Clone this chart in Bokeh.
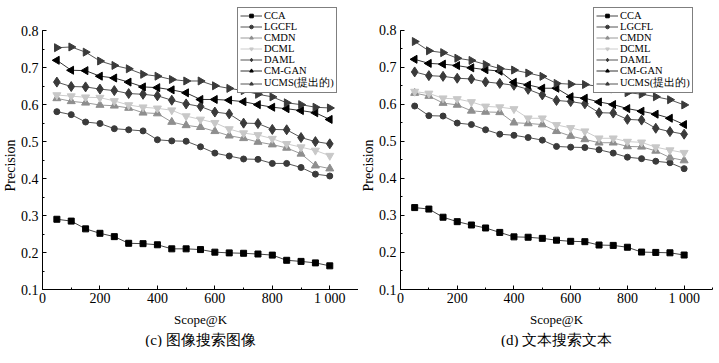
import math
from bokeh.plotting import figure
from bokeh.layouts import row
from bokeh.models import Range1d, Legend, LegendItem, Title, FixedTicker
from bokeh.embed import file_html
from bokeh.resources import INLINE

scope_k = [50, 100, 150, 200, 250, 300, 350, 400, 450, 500,
           550, 600, 650, 700, 750, 800, 850, 900, 950, 1000]

series_names = ["CCA", "LGCFL", "CMDN", "DCML", "DAML", "CM-GAN", "UCMS(提出的)"]

# (c) image -> image
img_cca = [0.290, 0.285, 0.264, 0.252, 0.243, 0.225, 0.224, 0.221, 0.210, 0.210,
           0.208, 0.201, 0.199, 0.198, 0.196, 0.193, 0.179, 0.176, 0.172, 0.164]
img_lgcfl = [0.581, 0.573, 0.553, 0.549, 0.535, 0.532, 0.529, 0.505, 0.502, 0.501,
             0.486, 0.469, 0.461, 0.453, 0.452, 0.441, 0.441, 0.430, 0.412, 0.407]
img_cmdn = [0.617, 0.609, 0.605, 0.599, 0.597, 0.591, 0.578, 0.576, 0.553, 0.544,
            0.539, 0.528, 0.516, 0.509, 0.499, 0.492, 0.483, 0.467, 0.435, 0.427]
img_dcml = [0.626, 0.623, 0.620, 0.619, 0.610, 0.599, 0.593, 0.590, 0.585, 0.569,
            0.560, 0.551, 0.534, 0.523, 0.518, 0.508, 0.494, 0.485, 0.476, 0.462]
img_daml = [0.661, 0.649, 0.648, 0.642, 0.638, 0.630, 0.628, 0.624, 0.612, 0.602,
            0.595, 0.580, 0.575, 0.550, 0.549, 0.533, 0.532, 0.511, 0.500, 0.494]
img_cmgan = [0.720, 0.693, 0.692, 0.677, 0.672, 0.661, 0.648, 0.646, 0.640, 0.632,
             0.614, 0.614, 0.612, 0.608, 0.600, 0.593, 0.589, 0.584, 0.578, 0.560]
img_ucms = [0.754, 0.756, 0.742, 0.718, 0.706, 0.697, 0.682, 0.677, 0.668, 0.664,
            0.664, 0.651, 0.644, 0.638, 0.628, 0.621, 0.605, 0.600, 0.593, 0.591]

# (d) text -> text
txt_cca = [0.321, 0.317, 0.295, 0.283, 0.274, 0.266, 0.254, 0.242, 0.241, 0.238,
           0.233, 0.230, 0.229, 0.220, 0.219, 0.214, 0.201, 0.200, 0.199, 0.193]
txt_lgcfl = [0.595, 0.569, 0.568, 0.549, 0.545, 0.531, 0.519, 0.516, 0.510, 0.503,
             0.486, 0.484, 0.483, 0.477, 0.468, 0.457, 0.453, 0.446, 0.442, 0.426]
txt_cmdn = [0.630, 0.622, 0.603, 0.598, 0.582, 0.579, 0.578, 0.550, 0.548, 0.545,
            0.527, 0.514, 0.505, 0.496, 0.496, 0.486, 0.485, 0.474, 0.456, 0.448]
txt_dcml = [0.634, 0.629, 0.616, 0.614, 0.606, 0.594, 0.592, 0.587, 0.562, 0.562,
            0.544, 0.536, 0.527, 0.508, 0.508, 0.499, 0.497, 0.484, 0.476, 0.469]
txt_daml = [0.687, 0.677, 0.675, 0.670, 0.668, 0.660, 0.656, 0.651, 0.640, 0.625,
            0.610, 0.607, 0.601, 0.577, 0.576, 0.559, 0.557, 0.535, 0.526, 0.519]
txt_cmgan = [0.721, 0.710, 0.708, 0.704, 0.698, 0.693, 0.689, 0.659, 0.652, 0.643,
             0.643, 0.620, 0.616, 0.606, 0.599, 0.588, 0.581, 0.573, 0.562, 0.545]
txt_ucms = [0.769, 0.744, 0.739, 0.724, 0.718, 0.707, 0.696, 0.692, 0.684, 0.675,
            0.656, 0.654, 0.653, 0.648, 0.641, 0.631, 0.627, 0.620, 0.612, 0.598]

x_ticks = [0, 200, 400, 600, 800, 1000]
x_minor = [0, 100, 200, 300, 400, 500, 600, 700, 800, 900, 1000, 1100]
y_ticks = [0.1, 0.2, 0.3, 0.4, 0.5, 0.6, 0.7, 0.8]
y_minor = [0.1, 0.15, 0.2, 0.25, 0.3, 0.35, 0.4, 0.45, 0.5, 0.55, 0.6, 0.65, 0.7, 0.75, 0.8]

styles = [
    dict(marker="square", color="#000000", line="#444444", size=6, angle=0.0),
    dict(marker="circle", color="#3a3a3a", line="#555555", size=6, angle=0.0),
    dict(marker="triangle", color="#8e8e8e", line="#9a9a9a", size=8, angle=0.0),
    dict(marker="inverted_triangle", color="#c8c8c8", line="#cccccc", size=8, angle=0.0),
    dict(marker="diamond", color="#3a3a3a", line="#555555", size=10, angle=0.0),
    dict(marker="triangle", color="#000000", line="#333333", size=8, angle=math.pi / 2),
    dict(marker="triangle", color="#3a3a3a", line="#555555", size=8, angle=-math.pi / 2),
]

SERIF = "Liberation Serif"


def make_plot(series, caption, frame_w, y_top, border_left, border_right,
              legend_x, legend_y, ylabel_offset):
    p = figure(frame_width=frame_w, height=347, output_backend="svg", toolbar_location=None,
               x_range=Range1d(0, 1100), y_range=Range1d(0.1, y_top),
               min_border_left=border_left, min_border_right=border_right,
               min_border_top=1, min_border_bottom=30)
    p.outline_line_color = None
    p.xgrid.visible = False
    p.ygrid.visible = False

    items = []
    for name, ys, st in zip(series_names, series, styles):
        lr = p.line(scope_k, ys, line_color=st["line"], line_width=1)
        sr = p.scatter(scope_k, ys, marker=st["marker"], size=st["size"], angle=st["angle"],
                       fill_color=st["color"], line_color=st["color"])
        items.append(LegendItem(label=name, renderers=[lr, sr]))

    legend = Legend(items=items, location=(legend_x, legend_y),
                    label_text_font=SERIF, label_text_font_size="10.5px",
                    label_text_color="#000000",
                    glyph_width=22, glyph_height=9, label_height=9,
                    label_standoff=2, spacing=0, padding=2, margin=0,
                    border_line_color="#000000", border_line_width=1,
                    background_fill_alpha=1.0)
    p.add_layout(legend, "center")

    for ax in (p.xaxis[0], p.yaxis[0]):
        ax.axis_line_color = "#000000"
        ax.major_tick_in = 4
        ax.major_tick_out = 0
        ax.minor_tick_in = 2
        ax.minor_tick_out = 0
        ax.major_label_text_font = SERIF
        ax.major_label_text_font_size = "14px"
        ax.major_label_text_color = "#000000"
        ax.axis_label_text_font = SERIF
        ax.axis_label_text_font_size = "13px"
        ax.axis_label_text_font_style = "normal"
        ax.axis_label_text_color = "#000000"

    p.xaxis.ticker = FixedTicker(ticks=x_ticks, minor_ticks=x_minor)
    p.xaxis.major_label_overrides = {1000: "1 000"}
    p.xaxis.axis_label = "Scope@K"
    p.xaxis.major_label_standoff = 1
    p.xaxis.axis_label_standoff = 3

    p.yaxis.ticker = FixedTicker(ticks=y_ticks, minor_ticks=y_minor)
    p.yaxis.bounds = (0.1, 0.8)
    p.yaxis.major_label_standoff = 4

    ylab = Title(text="Precision", align="left", offset=ylabel_offset, standoff=0,
                 text_font=SERIF, text_font_size="14px", text_font_style="normal",
                 text_color="#000000")
    p.add_layout(ylab, "left")

    cap = Title(text=caption, align="center", text_font=SERIF,
                text_font_size="15px", text_font_style="normal", text_color="#000000",
                offset=0, standoff=0)
    p.add_layout(cap, "below")
    return p


p1 = make_plot([img_cca, img_lgcfl, img_cmdn, img_dcml, img_daml, img_cmgan, img_ucms],
               "(c) 图像搜索图像", 316, 0.879, 30, 0, 195, 196, 98)
p2 = make_plot([txt_cca, txt_lgcfl, txt_cmdn, txt_dcml, txt_daml, txt_cmgan, txt_ucms],
               "(d) 文本搜索文本", 312, 0.877, 40, 1, 193, 196, 98)

layout = row(p1, p2)
open("out.html", "w").write(file_html(layout, INLINE))
